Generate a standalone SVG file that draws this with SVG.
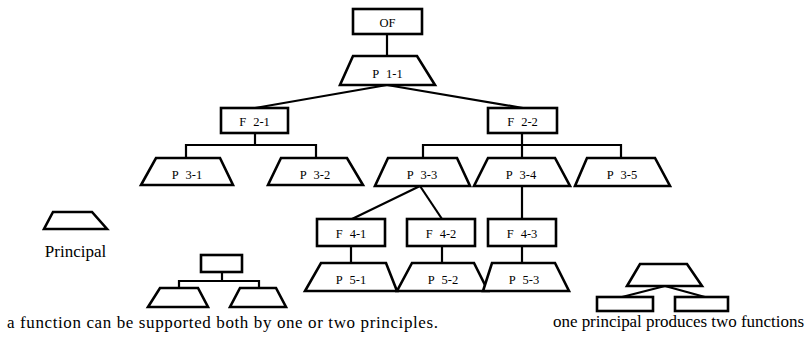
<svg xmlns="http://www.w3.org/2000/svg" width="806" height="343" viewBox="0 0 806 343">
<style>
.shape{fill:#fff;stroke:#000;stroke-width:2.6;stroke-linejoin:miter}
.conn line,.conn polyline{stroke:#000;stroke-width:2.2;fill:none}
.lbl{font-size:12.5px;text-anchor:middle;fill:#000;word-spacing:4px}
.cap{font-size:17px;fill:#000}
</style>
<rect width="806" height="343" fill="#fff"/>
<g class="conn" id="connectors">
<line x1="387" y1="34" x2="387" y2="56"/>
<line x1="387" y1="85" x2="255" y2="108"/>
<line x1="387" y1="85" x2="523" y2="108"/>
<line x1="255" y1="133" x2="255" y2="145"/>
<polyline points="186,158 186,145 316,145 316,158"/>
<line x1="522" y1="133" x2="522" y2="158"/>
<polyline points="423,158 423,145 621,145 621,158"/>
<line x1="420" y1="186" x2="352" y2="219"/>
<line x1="420" y1="186" x2="442" y2="219"/>
<line x1="522" y1="186" x2="522" y2="219"/>
<line x1="351" y1="246" x2="351" y2="263"/>
<line x1="442" y1="246" x2="442" y2="263"/>
<line x1="522" y1="246" x2="522" y2="263"/>
<line x1="222" y1="272" x2="222" y2="281"/>
<polyline points="179,288 179,281 259,281 259,288"/>
<line x1="665" y1="286" x2="622" y2="297"/>
<line x1="665" y1="286" x2="705" y2="297"/>
</g>
<g font-family="Liberation Serif, DejaVu Serif, serif">
<g id="OF"><rect class="shape" x="353" y="9" width="69" height="25"/><text class="lbl" x="387.5" y="27">OF</text></g>
<g id="P1-1"><polygon class="shape" points="353,56 417,56 435,85 340,85"/><text class="lbl" x="387.5" y="78">P 1-1</text></g>
<g id="F2-1"><rect class="shape" x="221" y="108" width="67" height="25"/><text class="lbl" x="254.5" y="126">F 2-1</text></g>
<g id="F2-2"><rect class="shape" x="488" y="108" width="69" height="25"/><text class="lbl" x="522.5" y="126">F 2-2</text></g>
<g id="P3-1"><polygon class="shape" points="156,158 220,158 233,185 141,185"/><text class="lbl" x="187" y="179">P 3-1</text></g>
<g id="P3-2"><polygon class="shape" points="281,158 347,158 363,185 268,185"/><text class="lbl" x="315" y="179">P 3-2</text></g>
<g id="P3-3"><polygon class="shape" points="388,158 457,158 470,186 375,186"/><text class="lbl" x="422" y="179">P 3-3</text></g>
<g id="P3-4"><polygon class="shape" points="488,158 555,158 570,186 474,186"/><text class="lbl" x="521" y="179">P 3-4</text></g>
<g id="P3-5"><polygon class="shape" points="587,158 655,158 670,186 575,186"/><text class="lbl" x="622" y="179">P 3-5</text></g>
<g id="F4-1"><rect class="shape" x="317" y="219" width="68" height="27"/><text class="lbl" x="351" y="238">F 4-1</text></g>
<g id="F4-2"><rect class="shape" x="407" y="219" width="68" height="27"/><text class="lbl" x="441" y="238">F 4-2</text></g>
<g id="F4-3"><rect class="shape" x="488" y="219" width="68" height="27"/><text class="lbl" x="522" y="238">F 4-3</text></g>
<g id="P5-1"><polygon class="shape" points="321,263 386,263 397,291 305,291"/><text class="lbl" x="351" y="284">P 5-1</text></g>
<g id="P5-2"><polygon class="shape" points="412,263 474,263 488,291 397,291"/><text class="lbl" x="443" y="284">P 5-2</text></g>
<g id="P5-3"><polygon class="shape" points="492,263 555,263 569,291 483,291"/><text class="lbl" x="524" y="284">P 5-3</text></g>
<g id="legend-principal"><polygon class="shape" points="53,212 92,212 107,229 44,229"/><text class="cap" x="75.5" y="257" text-anchor="middle">Principal</text></g>
<g id="legend-function-tree">
<rect class="shape" x="201" y="255" width="41" height="17"/>
<polygon class="shape" points="160,288 198,288 208,307 148,307"/>
<polygon class="shape" points="240,288 276,288 286,307 230,307"/>
</g>
<g id="legend-principle-tree">
<polygon class="shape" points="640,264 687,264 702,286 627,286"/>
<rect class="shape" x="597" y="297" width="56" height="14"/>
<rect class="shape" x="675" y="297" width="53" height="14"/>
</g>
<text class="cap" x="7" y="328" textLength="431" lengthAdjust="spacing">a function can be supported both by one or two principles.</text>
<text class="cap" x="553" y="327" textLength="251" lengthAdjust="spacing">one principal produces two functions</text>
</g>
</svg>
